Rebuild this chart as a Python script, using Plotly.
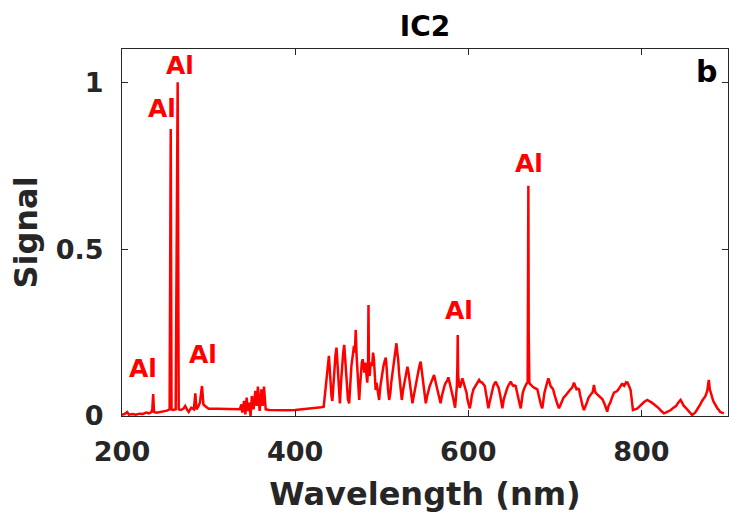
import plotly.graph_objects as go

wavelength = [
    200, 203, 206, 208, 212, 216, 220, 224, 228, 231, 234, 235, 236, 237, 240, 244, 248, 252, 255,
    256.3, 257.2, 259, 262, 264.3, 265.5, 268, 271, 273, 275, 277, 280, 283, 284.7, 286, 288, 290,
    292.4, 294, 296, 298, 300, 310, 320, 330, 336, 338, 339, 341, 342.5, 344, 345.5, 347, 348.5,
    350, 352, 354, 355.5, 357, 359, 361, 362.5, 364, 366, 370, 380, 390, 400, 410, 420, 430, 433,
    434.5, 436, 437.5, 439, 440, 441, 442, 443, 444, 445.5, 446.5, 447.8, 449, 450, 451, 451.7,
    453, 454, 455.5, 456.7, 458, 459, 460, 461, 462.4, 463.5, 465, 466.5, 468, 469, 470, 471, 472,
    473, 474, 475, 476, 477, 478, 479, 480, 481, 481.7, 482.5, 483.3, 484.2, 484.7, 485.3, 486,
    487, 488, 489, 490, 491, 491.5, 492.3, 493, 494, 495, 496, 497, 498.5, 500, 501, 502, 503.5,
    504.7, 505.5, 506, 507.3, 508.6, 510, 511, 512.5, 514, 515.5, 517, 518, 519, 520, 521, 522,
    523.2, 524.5, 526, 527.5, 529.7, 531, 532, 534, 535.5, 537, 539, 540.5, 542, 543.5, 545, 546,
    547, 549, 550.9, 552.5, 554, 555.5, 557, 558.5, 560.5, 562, 563, 565, 568, 569.5, 571, 572.5,
    574, 575.5, 577, 578.5, 580, 582, 584.8, 585.8, 586.8, 587.4, 587.8, 588.3, 589, 590, 591, 592,
    593.2, 594, 595, 596, 597, 598, 599, 600, 601.7, 603, 604, 606, 608, 610, 612.5, 614, 616, 617.5,
    619, 621, 623.2, 624.5, 626, 627.5, 629, 630.5, 631.7, 633, 635, 637, 639.4, 641, 643, 644.5,
    646, 647.5, 649, 650.5, 652, 653.5, 654.8, 656, 657, 659, 660.6, 662, 663, 665, 666.4, 667.5,
    668.6, 669.1, 669.4, 669.8, 670.5, 671.5, 673, 674.5, 676, 678, 679.8, 681.5, 683, 684.3, 685.5,
    687, 688, 690, 692.5, 694, 695, 696.5, 698, 699.5, 701, 703, 704.8, 706.5, 708, 710, 712, 714,
    716, 718, 720, 721, 722.1, 723.5, 725, 726.5, 728, 729, 730, 732, 733.6, 735, 737, 739, 741,
    742.5, 743.5, 744.4, 745.2, 746, 747, 749, 751, 753, 755, 757.5, 760.5, 762, 764, 766, 768.3,
    770, 772, 773.5, 775, 776.5, 777.9, 779, 780, 781, 782, 783, 783.6, 784.3, 785, 786, 787.5, 789,
    790.2, 792.5, 795, 797.5, 800, 803, 806.7, 809, 812, 814.5, 817, 819, 820.2, 823, 826, 828, 830,
    832, 834, 837, 840, 842.5, 845.2, 847, 849, 851, 853, 856, 858.6, 860, 862, 864, 866, 868, 870,
    872, 874, 876, 877.8, 879, 880, 881.5, 883, 884.5, 886, 888, 889.4, 891, 893, 895.2,
]

signal = [
    0.004, 0.006, 0.012, 0.004, 0.006, 0.004, 0.007, 0.006, 0.010, 0.008, 0.012, 0.020, 0.066, 0.012,
    0.010, 0.012, 0.015, 0.016, 0.020,
    0.860, 0.020, 0.018, 0.020, 1.000, 0.020, 0.018, 0.022, 0.030, 0.020, 0.012, 0.025, 0.020, 0.068,
    0.020, 0.028, 0.040,
    0.090, 0.035, 0.030, 0.025, 0.022, 0.022, 0.021, 0.020, 0.020, 0.035, 0.010, 0.045, 0.005, 0.055,
    0.015, 0.040, 0.000,
    0.060, 0.020, 0.075, 0.030, 0.088, 0.015, 0.080, 0.030, 0.088, 0.020, 0.018, 0.017, 0.017, 0.018,
    0.020, 0.022, 0.026, 0.028,
    0.070, 0.120, 0.150, 0.180, 0.140, 0.090, 0.060, 0.045, 0.090, 0.150, 0.180, 0.205, 0.150, 0.100,
    0.060, 0.038,
    0.100, 0.150, 0.190, 0.213, 0.160, 0.120, 0.080, 0.050, 0.038, 0.090, 0.150, 0.180, 0.210, 0.190,
    0.258, 0.180, 0.120,
    0.080, 0.048, 0.090, 0.140, 0.160, 0.170, 0.150, 0.130, 0.160, 0.150, 0.120, 0.100, 0.140, 0.333,
    0.130, 0.120,
    0.150, 0.160, 0.150, 0.190, 0.170, 0.140, 0.110, 0.078, 0.100, 0.080, 0.060, 0.048, 0.090, 0.120,
    0.140, 0.150, 0.165,
    0.175, 0.150, 0.120, 0.080, 0.048, 0.070, 0.100, 0.130, 0.160, 0.190, 0.218, 0.190, 0.170, 0.130,
    0.100, 0.070,
    0.048, 0.075, 0.100, 0.125, 0.148, 0.130, 0.110, 0.070, 0.038, 0.060, 0.090, 0.110, 0.130, 0.150,
    0.163, 0.140,
    0.120, 0.080, 0.038, 0.060, 0.080, 0.090, 0.100, 0.110, 0.123, 0.105, 0.095, 0.070, 0.038, 0.060,
    0.080, 0.090,
    0.100, 0.105, 0.116, 0.100, 0.090, 0.060, 0.025, 0.060, 0.090, 0.150, 0.243, 0.120, 0.100, 0.085,
    0.090, 0.100,
    0.113, 0.105, 0.095, 0.090, 0.080, 0.070, 0.050, 0.040, 0.023, 0.040, 0.060, 0.080, 0.090, 0.100,
    0.108, 0.102, 0.100, 0.095,
    0.090, 0.060, 0.023, 0.040, 0.060, 0.075, 0.090, 0.098, 0.103, 0.095, 0.085, 0.060, 0.023, 0.050,
    0.070, 0.080,
    0.090, 0.095, 0.103, 0.095, 0.090, 0.092, 0.090, 0.075, 0.060, 0.040, 0.023, 0.050, 0.070, 0.085,
    0.094, 0.098,
    0.100, 0.300, 0.690, 0.250, 0.100, 0.095, 0.090, 0.088, 0.085, 0.082, 0.080, 0.060, 0.040, 0.030,
    0.023,
    0.050, 0.070, 0.090, 0.113, 0.100, 0.090, 0.085, 0.080, 0.065, 0.050, 0.035, 0.023, 0.035, 0.045,
    0.055, 0.060, 0.068,
    0.075, 0.080, 0.085, 0.090, 0.100, 0.090, 0.080, 0.082, 0.080, 0.065, 0.050, 0.030, 0.018, 0.030,
    0.040, 0.055, 0.065,
    0.068, 0.070, 0.080, 0.093, 0.080, 0.070, 0.065, 0.060, 0.055, 0.050, 0.035, 0.013, 0.030, 0.040,
    0.055, 0.070,
    0.072, 0.075, 0.080, 0.085, 0.090, 0.098, 0.092, 0.090, 0.095, 0.100, 0.096, 0.103, 0.098, 0.095,
    0.088, 0.078, 0.050,
    0.018, 0.020, 0.022, 0.028, 0.035, 0.042, 0.048, 0.045, 0.040, 0.035, 0.030, 0.026, 0.023, 0.015,
    0.008, 0.010, 0.012,
    0.015, 0.018, 0.025, 0.030, 0.040, 0.048, 0.040, 0.030, 0.025, 0.020, 0.010, 0.003, 0.006, 0.010,
    0.018, 0.025, 0.035, 0.045,
    0.052, 0.060, 0.075, 0.108, 0.080, 0.070, 0.055, 0.045, 0.038, 0.030, 0.022, 0.018, 0.012, 0.010,
    0.008,
]

label_x = [224.7, 246.6, 267.4, 293.9, 589.4, 670.2]
label_y = [0.141, 0.922, 1.051, 0.183, 0.315, 0.757]
label_text = ["Al", "Al", "Al", "Al", "Al", "Al"]

x_ticks = [200, 400, 600, 800]
y_ticks = [0, 0.5, 1]
y_tick_text = ["0", "0.5", "1"]

FONT = "DejaVu Sans"
AX = "#262626"

fig = go.Figure()
fig.add_trace(go.Scatter(x=wavelength, y=signal, mode="lines",
                         line=dict(color="#ff0000", width=2.5), showlegend=False))

for lx, ly, lt in zip(label_x, label_y, label_text):
    fig.add_annotation(x=lx, y=ly, text=lt, showarrow=False, xref="x", yref="y",
                       xanchor="center", yanchor="middle",
                       font=dict(family=FONT, size=25, color="#ff0000", weight="bold"))

fig.add_annotation(x=0.964, y=0.94, xref="paper", yref="paper", text="b", showarrow=False,
                   xanchor="center", yanchor="middle",
                   font=dict(family=FONT, size=30, color="black", weight="bold"))

axis_common = dict(showline=True, linecolor=AX, linewidth=1, mirror="ticks", ticks="inside",
                   ticklen=6, tickcolor=AX, tickwidth=1, showgrid=False, zeroline=False,
                   automargin=False,
                   tickfont=dict(family=FONT, size=27, color=AX, weight="bold"))

fig.update_layout(
    width=730, height=521,
    margin=dict(l=122, r=2, t=49, b=105),
    paper_bgcolor="white", plot_bgcolor="white",
    title=dict(text="IC2", x=0.5, xref="paper", y=1 - 26 / 521, yref="container",
               yanchor="middle", xanchor="center", automargin=False,
               font=dict(family=FONT, size=28, color="black", weight="bold")),
    xaxis=dict(range=[200, 900], tickvals=x_ticks, ticklabelstandoff=12,
               title=dict(text="Wavelength (nm)", standoff=16,
                          font=dict(family=FONT, size=32, color=AX, weight="bold")),
               **axis_common),
    yaxis=dict(range=[0, 1.1], tickvals=y_ticks, ticktext=y_tick_text, ticklabelstandoff=12,
               title=dict(text="Signal", standoff=8,
                          font=dict(family=FONT, size=32, color=AX, weight="bold")),
               **axis_common),
)

fig.write_html("out.html", config={"displayModeBar": False},
               post_script="document.body.style.margin='0';document.body.style.overflow='hidden';")
